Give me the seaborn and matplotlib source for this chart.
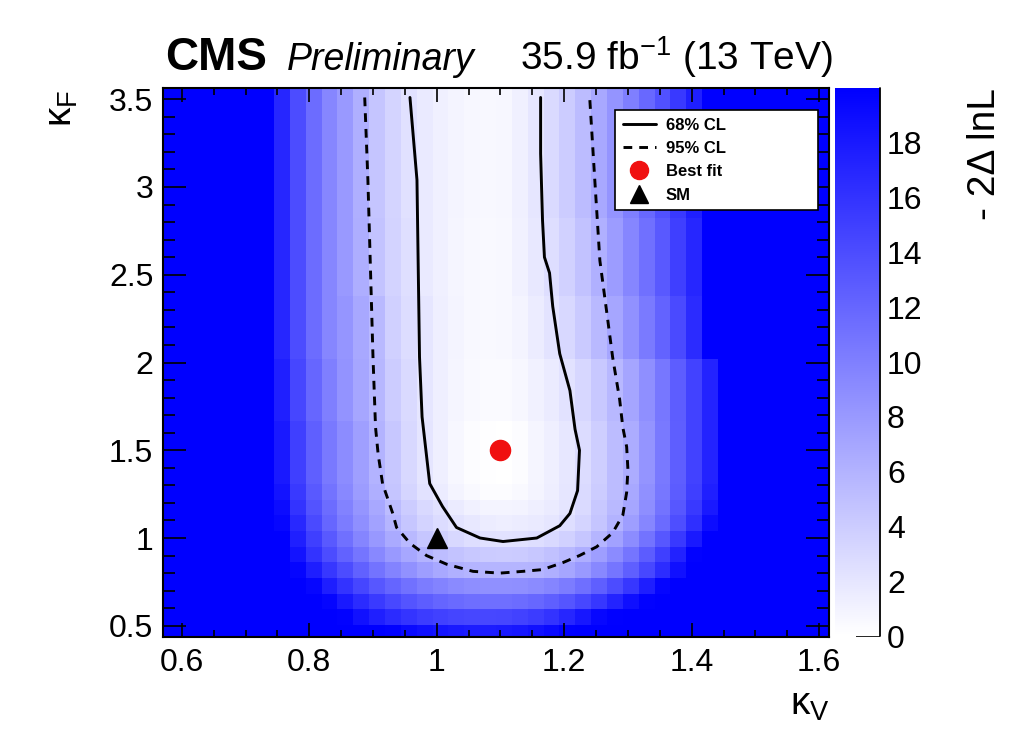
import numpy as np
import seaborn as sns
import matplotlib.pyplot as plt
from matplotlib.colors import LinearSegmentedColormap
from matplotlib.lines import Line2D
from matplotlib.ticker import MultipleLocator, FuncFormatter

# scan binning
kv_edge0 = 0.5705
kv_step = 0.02488
kf_edge0 = 0.4151
kf_step = 0.08923
kv_range = (0.5705, 1.6155)
kf_range = (0.436, 3.564)

# -2 delta lnL per cell: first row is the top one (kappa_F ~ 3.58), 42 kappa_V columns
# everything above 20 shows up in the saturated blue
nll = [
    [25,25,25,25,25,25,25,17,14,11.5,9.5,8,6.3,4.6,3.4,2.4,1.7,1.2,0.9,0.7,0.6,0.7,1.2,2.0,2.9,4.0,5.3,6.8,8.4,10,11.8,13.6,15.5,17.5,25,25,25,25,25,25,25,25],
    [25,25,25,25,25,25,25,17,14,11.5,9.5,8,6.3,4.6,3.4,2.4,1.7,1.2,0.9,0.7,0.6,0.7,1.2,2.0,2.9,4.0,5.3,6.8,8.4,10,11.8,13.6,15.5,17.5,25,25,25,25,25,25,25,25],
    [25,25,25,25,25,25,25,17,14,11.5,9.5,8,6.3,4.6,3.4,2.4,1.7,1.2,0.9,0.7,0.6,0.7,1.2,2.0,2.9,4.0,5.3,6.8,8.4,10,11.8,13.6,15.5,17.5,25,25,25,25,25,25,25,25],
    [25,25,25,25,25,25,25,17,14,11.5,9.5,8,6.3,4.6,3.4,2.4,1.7,1.2,0.9,0.7,0.6,0.7,1.2,2.0,2.9,4.0,5.3,6.8,8.4,10,11.8,13.6,15.5,17.5,25,25,25,25,25,25,25,25],
    [25,25,25,25,25,25,25,17,14,11.5,9.5,8,6.3,4.6,3.4,2.4,1.7,1.2,0.9,0.7,0.6,0.7,1.2,2.0,2.9,4.0,5.3,6.8,8.4,10,11.8,13.6,15.5,17.5,25,25,25,25,25,25,25,25],
    [25,25,25,25,25,25,25,17,14,11.5,9.5,8,6.3,4.6,3.4,2.4,1.7,1.2,0.9,0.7,0.6,0.7,1.2,2.0,2.9,4.0,5.3,6.8,8.4,10,11.8,13.6,15.5,17.5,25,25,25,25,25,25,25,25],
    [25,25,25,25,25,25,25,17,14,11.5,9.5,8,6.3,4.6,3.4,2.4,1.7,1.2,0.9,0.7,0.6,0.7,1.2,2.0,2.9,4.0,5.3,6.8,8.4,10,11.8,13.6,15.5,17.5,25,25,25,25,25,25,25,25],
    [25,25,25,25,25,25,25,17,14,11.5,9.5,8,6.3,4.6,3.4,2.4,1.7,1.2,0.9,0.7,0.6,0.7,1.2,2.0,2.9,4.0,5.3,6.8,8.4,10,11.8,13.6,15.5,17.5,25,25,25,25,25,25,25,25],
    [25,25,25,25,25,25,25,17,14,11.5,9.5,8,6.3,4.6,3.4,2.4,1.7,1.2,0.9,0.7,0.6,0.7,1.2,2.0,2.9,4.0,5.3,6.8,8.4,10,11.8,13.6,15.5,17.5,25,25,25,25,25,25,25,25],
    [25,25,25,25,25,25,25,17,14,11.5,9.5,8,6.4,4.7,3.5,2.5,1.7,1.2,0.8,0.6,0.5,0.6,1.1,1.8,2.6,3.6,4.8,6.2,7.8,9.5,11.2,13,15,17,25,25,25,25,25,25,25,25],
    [25,25,25,25,25,25,25,17,14,11.5,9.5,8,6.4,4.7,3.5,2.5,1.7,1.2,0.8,0.6,0.5,0.6,1.1,1.8,2.6,3.6,4.8,6.2,7.8,9.5,11.2,13,15,17,25,25,25,25,25,25,25,25],
    [25,25,25,25,25,25,25,17,14,11.5,9.5,8,6.4,4.7,3.5,2.5,1.7,1.2,0.8,0.6,0.5,0.6,1.1,1.8,2.6,3.6,4.8,6.2,7.8,9.5,11.2,13,15,17,25,25,25,25,25,25,25,25],
    [25,25,25,25,25,25,25,17,14,11.5,9.5,8,6.4,4.7,3.5,2.5,1.7,1.2,0.8,0.6,0.5,0.6,1.1,1.8,2.6,3.6,4.8,6.2,7.8,9.5,11.2,13,15,17,25,25,25,25,25,25,25,25],
    [25,25,25,25,25,25,25,17,14,11.5,9.5,8,6.4,4.7,3.5,2.5,1.7,1.2,0.8,0.6,0.5,0.6,1.1,1.8,2.6,3.6,4.8,6.2,7.8,9.5,11.2,13,15,17,25,25,25,25,25,25,25,25],
    [25,25,25,25,25,25,25,17,14,11.5,9.5,8.3,6.8,5.5,3.7,2.7,2.0,1.3,0.9,0.6,0.5,0.6,0.9,1.5,2.2,3.1,4.2,5.5,7.0,8.6,10.4,12.2,14.2,16.6,25,25,25,25,25,25,25,25],
    [25,25,25,25,25,25,25,17,14,11.5,9.5,8.3,6.8,5.5,3.7,2.7,2.0,1.3,0.9,0.6,0.5,0.6,0.9,1.5,2.2,3.1,4.2,5.5,7.0,8.6,10.4,12.2,14.2,16.6,25,25,25,25,25,25,25,25],
    [25,25,25,25,25,25,25,17,14,11.5,9.5,8.3,6.8,5.5,3.7,2.7,2.0,1.3,0.9,0.6,0.5,0.6,0.9,1.5,2.2,3.1,4.2,5.5,7.0,8.6,10.4,12.2,14.2,16.6,25,25,25,25,25,25,25,25],
    [25,25,25,25,25,25,25,17,14,11.5,9.5,8.3,6.8,5.5,3.7,2.7,2.0,1.3,0.9,0.6,0.5,0.6,0.9,1.5,2.2,3.1,4.2,5.5,7.0,8.6,10.4,12.2,14.2,16.6,25,25,25,25,25,25,25,25],
    [25,25,25,25,25,25,25,17.5,14.5,12,10,8.5,7.0,5.7,4.0,2.9,2.0,1.3,0.8,0.5,0.4,0.4,0.7,1.1,1.6,2.3,3.2,4.3,5.6,7.1,8.8,10.7,12.7,14.8,17.2,25,25,25,25,25,25,25],
    [25,25,25,25,25,25,25,17.5,14.5,12,10,8.5,7.0,5.7,4.0,2.9,2.0,1.3,0.8,0.5,0.4,0.4,0.7,1.1,1.6,2.3,3.2,4.3,5.6,7.1,8.8,10.7,12.7,14.8,17.2,25,25,25,25,25,25,25],
    [25,25,25,25,25,25,25,17.5,14.5,12,10,8.5,7.0,5.7,4.0,2.9,2.0,1.3,0.8,0.5,0.4,0.4,0.7,1.1,1.6,2.3,3.2,4.3,5.6,7.1,8.8,10.7,12.7,14.8,17.2,25,25,25,25,25,25,25],
    [25,25,25,25,25,25,25,17.5,14.5,12,10,8.5,7.0,5.7,4.0,2.9,2.0,1.3,0.8,0.5,0.4,0.4,0.7,1.1,1.6,2.3,3.2,4.3,5.6,7.1,8.8,10.7,12.7,14.8,17.2,25,25,25,25,25,25,25],
    [25,25,25,25,25,25,25,18,15,12.5,10.5,9,7.5,6.0,4.4,3.1,2.1,1.3,0.7,0.3,0.1,0.0,0.3,0.8,1.3,1.9,2.8,3.9,5.3,6.5,8.4,10.5,12.6,14.8,17.2,25,25,25,25,25,25,25],
    [25,25,25,25,25,25,25,18,15,12.5,10.5,9,7.5,6.0,4.4,3.1,2.1,1.3,0.7,0.3,0.1,0.0,0.3,0.8,1.3,1.9,2.8,3.9,5.3,6.5,8.4,10.5,12.6,14.8,17.2,25,25,25,25,25,25,25],
    [25,25,25,25,25,25,25,18,15,12.5,10.5,9,7.5,6.0,4.4,3.1,2.1,1.3,0.7,0.3,0.1,0.0,0.3,0.8,1.3,1.9,2.8,3.9,5.3,6.5,8.4,10.5,12.6,14.8,17.2,25,25,25,25,25,25,25],
    [25,25,25,25,25,25,25,18,15,12.5,10.5,9,7.5,6.0,4.4,3.1,2.1,1.3,0.7,0.3,0.1,0.0,0.3,0.8,1.3,1.9,2.8,3.9,5.3,6.5,8.4,10.5,12.6,14.8,17.2,25,25,25,25,25,25,25],
    [25,25,25,25,25,25,25,18.5,15.5,13,11,9.3,7.8,6.3,4.6,3.3,2.3,1.5,0.9,0.5,0.3,0.3,0.5,0.9,1.4,2.0,2.9,4.0,5.3,6.8,8.7,10.7,12.8,15,17.5,25,25,25,25,25,25,25],
    [25,25,25,25,25,25,25,19,16,13.5,11.5,9.8,8.3,6.8,5.3,4.0,3.0,2.4,1.6,1.1,0.9,0.9,1.0,1.3,1.6,2.1,2.9,4.3,5.5,7.0,8.9,11,13.2,15.5,18,25,25,25,25,25,25,25],
    [25,25,25,25,25,25,25,19.5,16.8,14.2,12,10.3,8.8,7.3,5.8,4.5,3.5,2.8,2.2,1.8,1.5,1.4,1.5,1.7,2.0,2.6,3.4,4.6,6.0,7.6,9.5,11.6,13.9,16.3,19,25,25,25,25,25,25,25],
    [25,25,25,25,25,25,25,20,17.5,15,13,11.2,9.6,8.1,6.7,5.5,4.5,3.7,3.1,2.6,2.4,2.3,2.4,2.6,3.0,3.6,4.5,5.8,7.3,9,11,13.2,15.5,18,20.5,25,25,25,25,25,25,25],
    [25,25,25,25,25,25,25,20.5,18.5,16,14,12.3,10.8,9.3,8.0,6.9,6.0,5.2,4.7,4.3,4.1,4.0,4.1,4.4,4.9,5.5,6.4,7.6,9.1,10.8,12.8,15,17.3,19.8,22,25,25,25,25,25,25,25],
    [25,25,25,25,25,25,25,22,19.6,17.6,15.7,14,12.4,11,9.7,8.6,7.6,6.8,6.2,5.9,5.8,5.8,5.8,5.9,6.3,7.0,8.0,9.3,10.8,12.5,14.4,16.5,18.7,21,23,25,25,25,25,25,25,25],
    [25,25,25,25,25,25,25,24,21,19.5,17.6,16,14.5,13.2,12.1,11.1,10.3,9.7,9.2,8.9,8.7,8.7,8.8,9.1,9.6,10.3,11.3,12.5,14,15.7,17.6,19.6,21.5,24,25,25,25,25,25,25,25,25],
    [25,25,25,25,25,25,25,25,24,21,19.6,18,16.6,15.4,14.3,13.4,12.7,12.1,11.7,11.4,11.3,11.3,11.5,11.9,12.5,13.3,14.4,15.7,17.2,18.8,19.8,21,25,25,25,25,25,25,25,25,25,25],
    [25,25,25,25,25,25,25,25,25,25,21,19.8,18.6,17.5,16.6,15.9,15.3,14.9,14.6,14.4,14.4,14.5,14.8,15.3,16,17,18.2,19.4,19.9,21,25,25,25,25,25,25,25,25,25,25,25,25],
    [25,25,25,25,25,25,25,25,25,25,25,25,25,20.5,19.8,19.2,18.7,18.3,18,17.8,17.8,17.9,18.2,18.6,19.2,19.9,21,25,25,25,25,25,25,25,25,25,25,25,25,25,25,25],
]

# 68% and 95% CL contours
cl68_kv = [0.958, 0.969, 0.973, 0.977, 0.989, 1.009, 1.031, 1.068, 1.104, 1.157, 1.193, 1.209,
           1.221, 1.224, 1.217, 1.209, 1.193, 1.182, 1.177, 1.169, 1.166, 1.163, 1.163]
cl68_kf = [3.51, 3.04, 2.03, 1.69, 1.31, 1.18, 1.06, 1.00, 0.98, 1.00, 1.07, 1.14,
           1.27, 1.50, 1.62, 1.84, 2.05, 2.32, 2.51, 2.60, 2.81, 3.19, 3.51]
cl95_kv = [0.887, 0.892, 0.900, 0.904, 0.908, 0.915, 0.931, 0.937, 0.958, 0.984, 1.016, 1.057,
           1.099, 1.135, 1.166, 1.198, 1.224, 1.251, 1.276, 1.292, 1.298, 1.300, 1.298, 1.292,
           1.287, 1.276, 1.267, 1.256, 1.248, 1.240]
cl95_kf = [3.51, 3.04, 2.03, 1.63, 1.48, 1.31, 1.14, 1.06, 0.97, 0.90, 0.85, 0.81,
           0.80, 0.81, 0.82, 0.86, 0.90, 0.95, 1.03, 1.13, 1.26, 1.39, 1.52, 1.63,
           1.79, 2.03, 2.28, 2.58, 3.04, 3.51]

best_fit = (1.10, 1.50)
sm_point = (1.0, 1.0)

sns.set_style('ticks')
plt.rcParams['font.family'] = ['Liberation Sans', 'DejaVu Sans']
plt.rcParams['mathtext.fontset'] = 'custom'
plt.rcParams['mathtext.rm'] = 'Liberation Sans'
plt.rcParams['mathtext.it'] = 'Liberation Sans:italic'
plt.rcParams['mathtext.bf'] = 'Liberation Sans:bold'
plt.rcParams['text.color'] = 'black'
plt.rcParams['xtick.color'] = 'black'
plt.rcParams['ytick.color'] = 'black'
plt.rcParams['xtick.labelcolor'] = 'black'
plt.rcParams['ytick.labelcolor'] = 'black'

fig = plt.figure(figsize=(10.24, 7.33), dpi=100)
rect = [163 / 1024, 1 - 637 / 733, 666 / 1024, 549 / 733]
ax_hm = fig.add_axes(rect)
cax = fig.add_axes([835 / 1024, 1 - 636 / 733, 45 / 1024, 548 / 733])

white_blue = LinearSegmentedColormap.from_list('white_blue', ['#ffffff', '#0000ff'])
sns.heatmap(np.array(nll), ax=ax_hm, cmap=white_blue, vmin=0, vmax=20, cbar_ax=cax,
            xticklabels=False, yticklabels=False)
kf_top = kf_edge0 + kf_step * len(nll)
ax_hm.set_xlim((kv_range[0] - kv_edge0) / kv_step, (kv_range[1] - kv_edge0) / kv_step)
ax_hm.set_ylim((kf_top - kf_range[0]) / kf_step, (kf_top - kf_range[1]) / kf_step)
ax_hm.axis('off')

# colour bar like the ROOT palette axis
cbar = ax_hm.collections[0].colorbar
cbar.set_ticks(range(0, 20, 2))
cbar.outline.set_visible(False)
cax.tick_params(direction='in', length=17, width=1.2, labelsize=23, pad=5,
                color='black', labelcolor='black')
cax.plot([1, 1], [0, 1], transform=cax.transAxes, color='black', lw=1.3, clip_on=False)

# overlay axes in real kappa units
ax = fig.add_axes(rect, facecolor='none')
dash = (0, (3, 2.4))
ax.plot(cl68_kv, cl68_kf, color='black', lw=2.1)
ax.plot(cl95_kv, cl95_kf, color='black', lw=2.1, ls=dash)
ax.plot(best_fit[0], best_fit[1], 'o', color='#f01010', ms=14.5)
ax.plot(sm_point[0], sm_point[1], '^', color='black', ms=15)
ax.set_xlim(kv_range)
ax.set_ylim(kf_range)
ax.xaxis.set_major_locator(MultipleLocator(0.2))
ax.xaxis.set_minor_locator(MultipleLocator(0.05))
ax.yaxis.set_major_locator(MultipleLocator(0.5))
ax.yaxis.set_minor_locator(MultipleLocator(0.1))
fmt = FuncFormatter(lambda v, p: '%g' % round(v, 2))
ax.xaxis.set_major_formatter(fmt)
ax.yaxis.set_major_formatter(fmt)
ax.tick_params(which='both', direction='in', top=True, right=True, width=1.2,
               color='black', labelcolor='black', labelsize=23)
ax.tick_params(axis='x', which='major', length=10, pad=8)
ax.tick_params(axis='x', which='minor', length=5)
ax.tick_params(axis='y', which='major', length=16.5, pad=7)
ax.tick_params(axis='y', which='minor', length=8.5)
for s in ax.spines.values():
    s.set_linewidth(1.5)
    s.set_color('black')

handles = [Line2D([], [], color='black', lw=2.1, label='68% CL'),
           Line2D([], [], color='black', lw=2.1, ls=dash, label='95% CL'),
           Line2D([], [], ls='none', marker='o', color='#f01010', ms=13, label='Best fit'),
           Line2D([], [], ls='none', marker='^', color='black', ms=13, label='SM')]
leg = ax.legend(handles=handles, loc='upper left',
                bbox_to_anchor=(615 / 1024, 1 - 220 / 733, 203 / 1024, 110 / 733),
                bbox_transform=fig.transFigure, mode='expand',
                prop={'weight': 'bold', 'size': 12}, frameon=True, fancybox=False,
                framealpha=1, edgecolor='black', borderaxespad=0, borderpad=0.45,
                handlelength=2.0, handletextpad=0.6, labelspacing=0.5)
leg.get_frame().set_linewidth(1.2)
for t in leg.get_texts():
    t.set_color('black')

# header and axis titles
fig.text(165 / 1024, 1 - 70 / 733, 'CMS', weight='bold', size=33, ha='left', va='baseline')
fig.text(287 / 1024, 1 - 70 / 733, 'Preliminary', style='italic', size=27, ha='left', va='baseline')
fig.text(833 / 1024, 1 - 70 / 733, '35.9 fb$^{-1}$ (13 TeV)', size=28, ha='right', va='baseline')
fig.text(62 / 1024, 1 - 90 / 733, r'κ$_{\mathregular{F}}$', rotation=90, ha='center', va='top', size=28)
fig.text(830 / 1024, 1 - 705 / 733, r'κ$_{\mathregular{V}}$', ha='right', va='center', size=28)
fig.text(985 / 1024, 1 - 88 / 733, '- 2Δ lnL', rotation=90, ha='center', va='top', size=28)

fig.savefig('out.png', dpi=100, facecolor='white')
